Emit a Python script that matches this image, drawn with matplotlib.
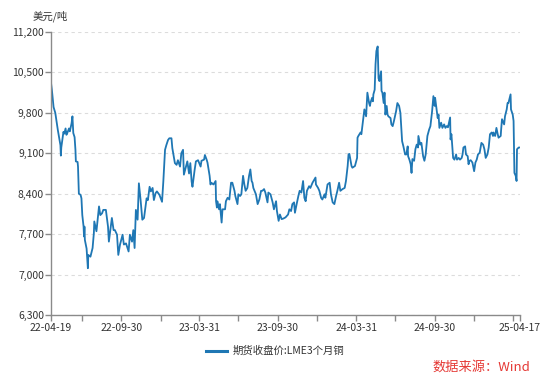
#!/usr/bin/env python3
import matplotlib

matplotlib.use("Agg")

import matplotlib.dates as mdates
import matplotlib.pyplot as plt
import pandas as pd
from matplotlib.lines import Line2D
from matplotlib.ticker import FuncFormatter

plt.rcParams["font.family"] = ["Noto Sans CJK SC", "DejaVu Sans"]

SERIES_NAME = "期货收盘价:LME3个月铜"
UNIT_LABEL = "美元/吨"
SOURCE_LABEL = "数据来源：Wind"

# LME 3-month copper close (USD/t)
trade_dates = [
    "2022-04-19", "2022-04-21", "2022-04-25", "2022-04-27", "2022-04-29",
    "2022-05-03", "2022-05-05", "2022-05-09", "2022-05-11", "2022-05-12", "2022-05-13", "2022-05-16",
    "2022-05-18", "2022-05-20", "2022-05-23", "2022-05-25", "2022-05-27", "2022-05-31",
    "2022-06-02", "2022-06-06", "2022-06-08", "2022-06-10", "2022-06-13", "2022-06-15", "2022-06-16",
    "2022-06-20", "2022-06-21", "2022-06-23", "2022-06-27", "2022-06-29",
    "2022-07-01", "2022-07-04", "2022-07-05", "2022-07-06", "2022-07-07", "2022-07-11", "2022-07-14",
    "2022-07-15", "2022-07-20", "2022-07-25", "2022-07-28", "2022-07-29",
    "2022-08-03", "2022-08-09", "2022-08-12", "2022-08-16", "2022-08-19", "2022-08-25", "2022-08-30",
    "2022-09-01", "2022-09-02", "2022-09-08", "2022-09-12", "2022-09-15", "2022-09-20", "2022-09-23", "2022-09-27",
    "2022-10-03", "2022-10-06", "2022-10-11", "2022-10-17", "2022-10-20", "2022-10-25", "2022-10-28", "2022-10-31",
    "2022-11-03", "2022-11-07", "2022-11-10", "2022-11-14", "2022-11-18", "2022-11-22", "2022-11-28",
    "2022-12-01", "2022-12-05", "2022-12-08", "2022-12-12", "2022-12-15", "2022-12-19", "2022-12-22", "2022-12-28",
    "2023-01-03", "2023-01-06", "2023-01-10", "2023-01-13", "2023-01-17", "2023-01-20", "2023-01-25", "2023-01-27",
    "2023-02-02", "2023-02-06", "2023-02-09", "2023-02-14", "2023-02-17", "2023-02-21", "2023-02-23", "2023-02-28",
    "2023-03-03", "2023-03-07", "2023-03-10", "2023-03-13", "2023-03-15", "2023-03-20", "2023-03-23", "2023-03-28",
    "2023-04-03", "2023-04-05", "2023-04-11", "2023-04-13", "2023-04-17", "2023-04-19", "2023-04-24", "2023-04-26",
    "2023-04-28",
    "2023-05-03", "2023-05-08", "2023-05-09", "2023-05-11", "2023-05-12", "2023-05-16", "2023-05-18", "2023-05-22",
    "2023-05-24", "2023-05-30",
    "2023-06-01", "2023-06-05", "2023-06-09", "2023-06-13", "2023-06-16", "2023-06-21", "2023-06-23", "2023-06-28",
    "2023-06-30",
    "2023-07-04", "2023-07-07", "2023-07-11", "2023-07-14", "2023-07-17", "2023-07-21", "2023-07-25", "2023-07-28",
    "2023-07-31",
    "2023-08-02", "2023-08-04", "2023-08-10", "2023-08-14", "2023-08-18", "2023-08-22", "2023-08-25", "2023-08-29",
    "2023-09-01", "2023-09-06", "2023-09-08", "2023-09-13", "2023-09-18", "2023-09-21", "2023-09-26", "2023-09-28",
    "2023-10-02", "2023-10-05", "2023-10-09", "2023-10-13", "2023-10-18", "2023-10-24", "2023-10-27", "2023-10-31",
    "2023-11-03", "2023-11-07", "2023-11-09", "2023-11-13", "2023-11-17", "2023-11-20", "2023-11-24", "2023-11-28",
    "2023-12-01", "2023-12-04", "2023-12-07", "2023-12-12", "2023-12-15", "2023-12-20", "2023-12-27", "2023-12-28",
    "2024-01-02", "2024-01-05", "2024-01-09", "2024-01-12", "2024-01-17", "2024-01-19", "2024-01-24", "2024-01-29",
    "2024-02-01", "2024-02-05", "2024-02-09", "2024-02-13", "2024-02-16", "2024-02-20", "2024-02-23", "2024-02-28",
    "2024-03-04", "2024-03-07", "2024-03-11", "2024-03-13", "2024-03-15", "2024-03-20", "2024-03-22", "2024-03-28",
    "2024-04-02", "2024-04-03", "2024-04-05", "2024-04-10", "2024-04-12", "2024-04-19", "2024-04-23", "2024-04-26",
    "2024-04-30",
    "2024-05-02", "2024-05-03", "2024-05-07", "2024-05-09", "2024-05-10", "2024-05-13", "2024-05-15", "2024-05-17",
    "2024-05-20", "2024-05-21", "2024-05-22", "2024-05-24", "2024-05-28", "2024-05-29", "2024-05-31",
    "2024-06-03", "2024-06-05", "2024-06-07", "2024-06-10", "2024-06-12", "2024-06-14", "2024-06-19", "2024-06-21",
    "2024-06-24", "2024-06-27",
    "2024-07-02", "2024-07-05", "2024-07-09", "2024-07-12", "2024-07-16", "2024-07-19", "2024-07-23", "2024-07-26",
    "2024-07-29", "2024-07-30",
    "2024-08-02", "2024-08-05", "2024-08-07", "2024-08-09", "2024-08-13", "2024-08-16", "2024-08-19", "2024-08-22",
    "2024-08-23", "2024-08-27", "2024-08-30",
    "2024-09-03", "2024-09-06", "2024-09-09", "2024-09-11", "2024-09-13", "2024-09-17", "2024-09-20", "2024-09-24",
    "2024-09-27", "2024-09-30",
    "2024-10-01", "2024-10-04", "2024-10-07", "2024-10-09", "2024-10-11", "2024-10-15", "2024-10-18", "2024-10-22",
    "2024-10-25", "2024-10-28", "2024-10-31",
    "2024-11-05", "2024-11-06", "2024-11-08", "2024-11-12", "2024-11-15", "2024-11-19", "2024-11-21", "2024-11-25",
    "2024-11-28",
    "2024-12-02", "2024-12-04", "2024-12-06", "2024-12-10", "2024-12-12", "2024-12-16", "2024-12-18", "2024-12-20",
    "2024-12-23", "2024-12-27", "2024-12-31",
    "2025-01-03", "2025-01-06", "2025-01-09", "2025-01-13", "2025-01-15", "2025-01-17", "2025-01-21", "2025-01-24",
    "2025-01-27", "2025-01-31",
    "2025-02-03", "2025-02-06", "2025-02-10", "2025-02-13", "2025-02-14", "2025-02-18", "2025-02-21", "2025-02-24",
    "2025-02-26",
    "2025-03-03", "2025-03-04", "2025-03-06", "2025-03-11", "2025-03-13", "2025-03-17", "2025-03-19", "2025-03-21",
    "2025-03-26", "2025-03-27", "2025-03-31",
    "2025-04-02", "2025-04-03", "2025-04-04", "2025-04-07", "2025-04-09", "2025-04-10", "2025-04-14", "2025-04-17",
]

close_prices = [
    10320, 10200, 9900, 9850, 9800,
    9600, 9500, 9330, 9240, 9060, 9200, 9360,
    9470, 9440, 9530, 9420, 9450, 9530,
    9480, 9620, 9740, 9450, 9380, 9160, 8960,
    8950, 8870, 8400, 8380, 8320,
    8030, 7830, 7660, 7830, 7600, 7450, 7110,
    7340, 7310, 7460, 7720, 7920,
    7750, 8180, 8030, 8060, 8120, 8120, 7830,
    7570, 7630, 7980, 7770, 7770, 7690, 7340, 7520,
    7690, 7520, 7540, 7400, 7690, 7570, 7770, 7460,
    8120, 7950, 8580, 8290, 7950, 7980, 8320,
    8290, 8520, 8440, 8500, 8290, 8410, 8440, 8380,
    8260, 8610, 9160, 9240, 9330, 9360, 9360, 9190,
    8930, 8900, 8980, 8870, 9100, 9160, 8730, 8870,
    8960, 8750, 8930, 8610, 8520, 8810, 8960, 8980,
    8870, 8970, 8990, 9070, 8990, 8940, 8710, 8560,
    8590,
    8560, 8620, 8270, 8160, 8270, 8130, 8220, 7900,
    8130, 8130,
    8270, 8330, 8300, 8590, 8590, 8450, 8360, 8220,
    8390,
    8360, 8390, 8710, 8560, 8450, 8500, 8710, 8820,
    8620,
    8590, 8500, 8390, 8220, 8300, 8450, 8450, 8480,
    8420, 8250, 8420, 8390, 8250, 8130, 8270, 8100,
    7930, 8040, 7960, 7970, 7990, 8040, 8130, 8100,
    8220, 8250, 8070, 8220, 8360, 8450, 8420, 8620,
    8330, 8270, 8450, 8530, 8500, 8590, 8680, 8560,
    8500, 8450, 8330, 8300, 8390, 8330, 8560, 8590,
    8390, 8250, 8220, 8360, 8450, 8590, 8450, 8480,
    8500, 8620, 8880, 9080, 9090, 8880, 8850, 8880,
    9020, 9370, 9400, 9460, 9430, 9860, 9740, 10150,
    9970,
    9920, 9970, 10060, 10000, 10120, 10200, 10640, 10870,
    10950, 10640, 10400, 10350, 10520, 10180, 10150,
    9970, 10150, 9770, 9920, 9770, 9740, 9710, 9600,
    9570, 9660,
    9830, 9970, 9920, 9800, 9310, 9220, 9080, 9080,
    9220, 9050,
    8990, 8910, 8760, 9000, 8970, 9170, 9250, 9200,
    9400, 9250, 9280,
    9050, 8970, 9080, 9250, 9400, 9510, 9570, 9830,
    10090, 9920,
    10060, 9890, 9710, 9770, 9540, 9630, 9540, 9600,
    9540, 9570, 9550,
    9720, 9340, 9430, 9020, 8990, 9080, 8990, 9020,
    8990,
    9020, 9080, 9200, 9220, 9080, 9050, 8910, 8970,
    8980, 8940, 8790,
    8940, 8990, 9080, 9110, 9200, 9280, 9250, 9170,
    9020, 9080,
    9200, 9430, 9460, 9400, 9460, 9400, 9540, 9430,
    9370,
    9400, 9510, 9690, 9600, 9740, 9860, 9970, 9970,
    10120, 9860, 9770,
    9660, 9250, 8760, 8710, 8620, 9170, 9200, 9200,
]

y_ticks = [6300, 7000, 7700, 8400, 9100, 9800, 10500, 11200]
labelled_dates = ["2022-04-19", "2022-09-30", "2023-03-31", "2023-09-30", "2024-03-31", "2024-09-30", "2025-04-17"]
quarter_dates = ["2022-06-30", "2022-12-31", "2023-06-30", "2023-12-31", "2024-06-30", "2024-12-31", "2025-03-31"]

LINE_COLOR = "#1f77b4"
AXIS_COLOR = "#8a8a8a"
TEXT_COLOR = "#333333"
GRID_COLOR = "#dcdcdc"


def main() -> None:
    assert len(trade_dates) == len(close_prices), (len(trade_dates), len(close_prices))
    dates = pd.to_datetime(trade_dates)

    fig = plt.figure(figsize=(5.5, 3.83), dpi=100)
    ax = fig.add_axes([51 / 550, 68 / 383, 469 / 550, 283 / 383])

    ax.plot(dates, close_prices, color=LINE_COLOR, linewidth=1.3, solid_joinstyle="round")

    ax.set_xlim(dates[0], dates[-1])
    ax.set_ylim(y_ticks[0], y_ticks[-1])

    ax.set_yticks(y_ticks)
    ax.yaxis.set_major_formatter(FuncFormatter(lambda v, _: f"{int(v):,}"))
    ax.set_xticks(pd.to_datetime(labelled_dates))
    ax.set_xticks(pd.to_datetime(quarter_dates), minor=True)
    ax.xaxis.set_major_formatter(mdates.DateFormatter("%y-%m-%d"))

    ax.grid(axis="y", color=GRID_COLOR, linestyle=(0, (3, 3)), linewidth=0.8)
    ax.set_axisbelow(True)

    for side in ("top", "right"):
        ax.spines[side].set_visible(False)
    for side in ("left", "bottom"):
        ax.spines[side].set_color(AXIS_COLOR)
        ax.spines[side].set_linewidth(1.0)

    ax.tick_params(axis="both", which="both", direction="out", color=AXIS_COLOR,
                   labelcolor=TEXT_COLOR, labelsize=7.5, width=1.0)
    ax.tick_params(axis="x", which="both", length=4, pad=2)
    ax.tick_params(axis="y", length=4, pad=1)

    fig.text(50 / 550, 1 - 16 / 383, UNIT_LABEL, ha="center", va="center",
             fontsize=7.5, color=TEXT_COLOR)

    handle = Line2D([], [], color=LINE_COLOR, linewidth=2.2)
    fig.legend([handle], [SERIES_NAME], loc="center", bbox_to_anchor=(275 / 550, 1 - 351 / 383),
               frameon=False, fontsize=7.5, handlelength=2.0, handletextpad=0.5, labelcolor=TEXT_COLOR)

    fig.text(530 / 550, 1 - 367 / 383, SOURCE_LABEL, ha="right", va="center",
             fontsize=9.5, color="#e53935")

    fig.savefig("out.png", dpi=100)
    plt.close(fig)


if __name__ == "__main__":
    main()
